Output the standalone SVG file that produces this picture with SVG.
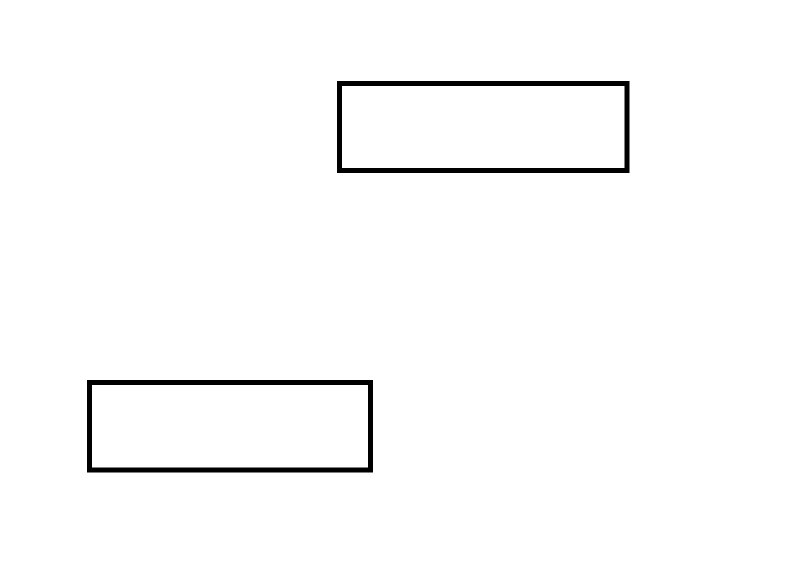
<svg xmlns="http://www.w3.org/2000/svg" width="800" height="584" viewBox="0 0 800 584">
<style>
.box{fill:#fff;stroke:#000;stroke-width:5}
</style>
<rect width="800" height="584" fill="#fff"/>
<g id="connectors"></g>
<g id="node1"><rect class="box" x="339.5" y="83.5" width="287.5" height="87"/></g>
<g id="node2"><rect class="box" x="89.5" y="382.5" width="281" height="87.5"/></g>
</svg>
